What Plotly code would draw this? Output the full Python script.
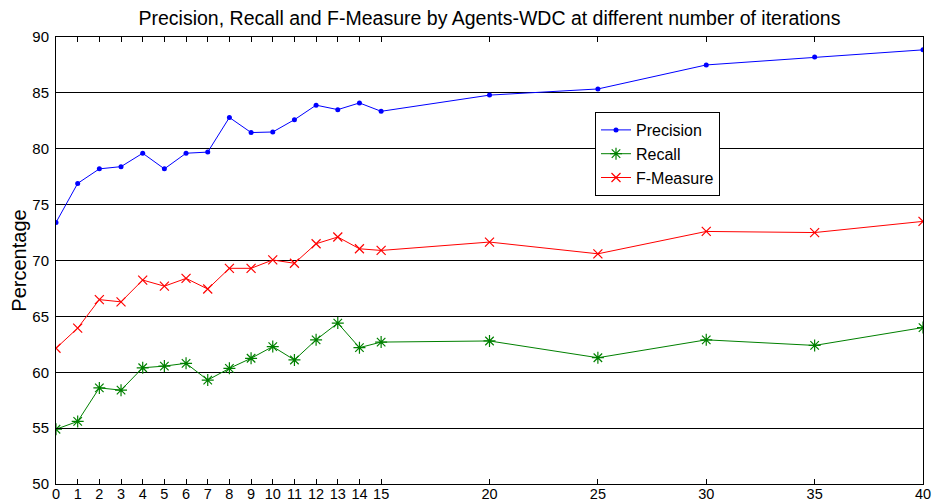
import plotly.graph_objects as go

iterations = [0, 1, 2, 3, 4, 5, 6, 7, 8, 9, 10, 11, 12, 13, 14, 15, 20, 25, 30, 35, 40]
precision = [73.4, 76.9, 78.2, 78.4, 79.6, 78.2, 79.6, 79.7, 82.8, 81.45, 81.5, 82.6, 83.9,
             83.5, 84.1, 83.35, 84.8, 85.35, 87.5, 88.2, 88.85]
recall = [54.9, 55.6, 58.6, 58.4, 60.4, 60.55, 60.8, 59.3, 60.35, 61.25, 62.3, 61.1, 62.9,
          64.4, 62.2, 62.7, 62.8, 61.3, 62.9, 62.4, 64.0]
fmeasure = [62.15, 63.95, 66.5, 66.3, 68.25, 67.7, 68.4, 67.45, 69.3, 69.3, 70.05, 69.75, 71.5,
            72.1, 71.05, 70.9, 71.65, 70.6, 72.6, 72.5, 73.5]
tick_vals = [0, 1, 2, 3, 4, 5, 6, 7, 8, 9, 10, 11, 12, 13, 14, 15, 20, 25, 30, 35, 40]
y_ticks = [50, 55, 60, 65, 70, 75, 80, 85, 90]

W, H = 932, 503
L, T, R, B = 56, 37, 9, 19

fig = go.Figure()
fig.add_trace(go.Scatter(x=iterations, y=precision, name="Precision", mode="lines+markers",
                         line=dict(color="#0000ff", width=1),
                         marker=dict(symbol="circle", size=5, color="#0000ff")))
fig.add_trace(go.Scatter(x=iterations, y=recall, name="Recall", mode="lines+markers",
                         line=dict(color="#008000", width=1),
                         marker=dict(symbol="asterisk-open", size=10,
                                     line=dict(color="#008000", width=1.2))))
fig.add_trace(go.Scatter(x=iterations, y=fmeasure, name="F-Measure", mode="lines+markers",
                         line=dict(color="#ff0000", width=1),
                         marker=dict(symbol="x-thin-open", size=9,
                                     line=dict(color="#ff0000", width=1.2))))

plot_w = W - L - R
plot_h = H - T - B
fig.update_layout(
    width=W, height=H,
    paper_bgcolor="white", plot_bgcolor="white",
    margin=dict(l=L, r=R, t=T, b=B),
    font=dict(family="Liberation Sans, Arial, sans-serif", size=15, color="black"),
    title=dict(text="Precision, Recall and F-Measure by Agents-WDC at different number of iterations",
               x=(L + plot_w / 2) / W, xanchor="center", y=1 - 18 / H, yanchor="middle",
               font=dict(size=19.5, color="black")),
    showlegend=True,
    legend=dict(x=(595 - L) / plot_w, y=1 - (112 - T) / plot_h,
                xanchor="left", yanchor="top",
                bgcolor="white", bordercolor="black", borderwidth=1,
                font=dict(size=16), tracegroupgap=0, itemwidth=30),
)
fig.update_xaxes(range=[0, 40], tickvals=tick_vals, ticktext=[str(v) for v in tick_vals],
                 showgrid=False, zeroline=False, showline=True, linecolor="black", linewidth=1,
                 mirror="ticks", ticks="inside", ticklen=5, tickcolor="black",
                 tickfont=dict(size=14.5), ticklabelstandoff=-3, automargin=False)
fig.update_yaxes(range=[50, 90], tickvals=y_ticks, showgrid=True, gridcolor="black", gridwidth=1,
                 zeroline=False, showline=True, linecolor="black", linewidth=1,
                 mirror="ticks", ticks="inside", ticklen=5, tickcolor="black",
                 title=dict(text="Percentage", font=dict(size=20), standoff=0),
                 tickfont=dict(size=15), ticklabelstandoff=3, automargin=False)

fig.write_html("out.html",
               config={"displayModeBar": False},
               post_script="document.body.style.margin='0';document.body.style.overflow='hidden';")
